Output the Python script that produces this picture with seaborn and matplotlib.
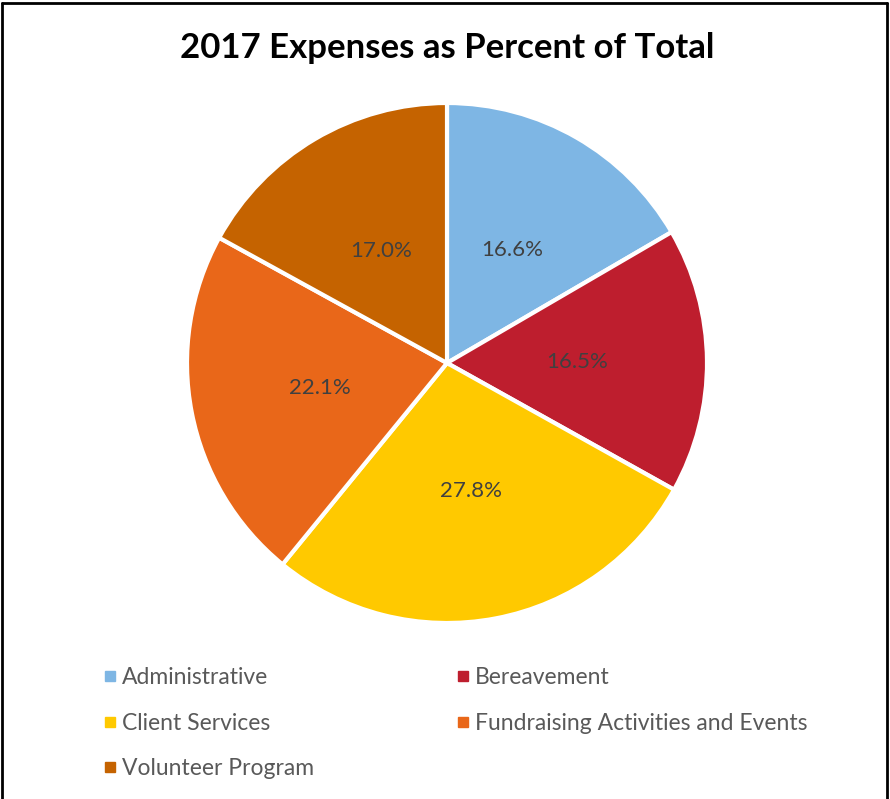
import matplotlib
matplotlib.use("Agg")
import matplotlib.pyplot as plt
import seaborn as sns
from matplotlib.lines import Line2D

sns.set_theme(style="white")
plt.rcParams['font.family'] = ['Lato', 'DejaVu Sans']

categories = ["Administrative", "Bereavement", "Client Services",
              "Fundraising Activities and Events", "Volunteer Program"]
values = [16.6, 16.5, 27.8, 22.1, 17.0]
colors = ["#7EB6E4", "#BE1E2E", "#FFC900", "#E96719", "#C56300"]
title = "2017 Expenses as Percent of Total"

W, H = 890, 799
fig = plt.figure(figsize=(W / 100, H / 100), dpi=100)
fig.patch.set_facecolor("white")

cx, cy, r = 447, 363, 260
ax = fig.add_axes([(cx - r) / W, (H - cy - r) / H, 2 * r / W, 2 * r / H])
wedges, texts, autotexts = ax.pie(
    values, colors=colors, startangle=90, counterclock=False,
    autopct="%.1f%%", pctdistance=0.5,
    wedgeprops=dict(edgecolor="white", linewidth=3),
    textprops=dict(color="#404040", fontsize=16))
ax.set_xlim(-1, 1)
ax.set_ylim(-1, 1)
ax.set_aspect("equal")

fig.text(447 / W, 1 - 48 / H, title, ha="center", va="center",
         fontsize=25, fontweight="bold", color="black")

handles = [Line2D([0], [0], marker="s", linestyle="none", markersize=6.5,
                  markerfacecolor=c, markeredgecolor=c) for c in colors]
order = [0, 2, 4, 1, 3]  # row-major fill in two columns
leg = fig.legend([handles[i] for i in order], [categories[i] for i in order],
                 ncol=2, loc="upper left",
                 bbox_to_anchor=(105 / W, 1 - 667 / H), frameon=False,
                 borderpad=0, borderaxespad=0,
                 fontsize=16.5, labelcolor="#595959", handlelength=0.4,
                 handletextpad=0.35, columnspacing=6.27, labelspacing=1.07)

# outer frame (left, top, right)
fig.add_artist(Line2D([1.5 / W, 1.5 / W], [0, 1 - 2.5 / H], color="black", lw=2, transform=fig.transFigure))
fig.add_artist(Line2D([1.5 / W, 887 / W], [1 - 2.5 / H, 1 - 2.5 / H], color="black", lw=2, transform=fig.transFigure))
fig.add_artist(Line2D([887 / W, 887 / W], [0, 1 - 2.5 / H], color="black", lw=2, transform=fig.transFigure))

fig.savefig("out.png", dpi=100)
